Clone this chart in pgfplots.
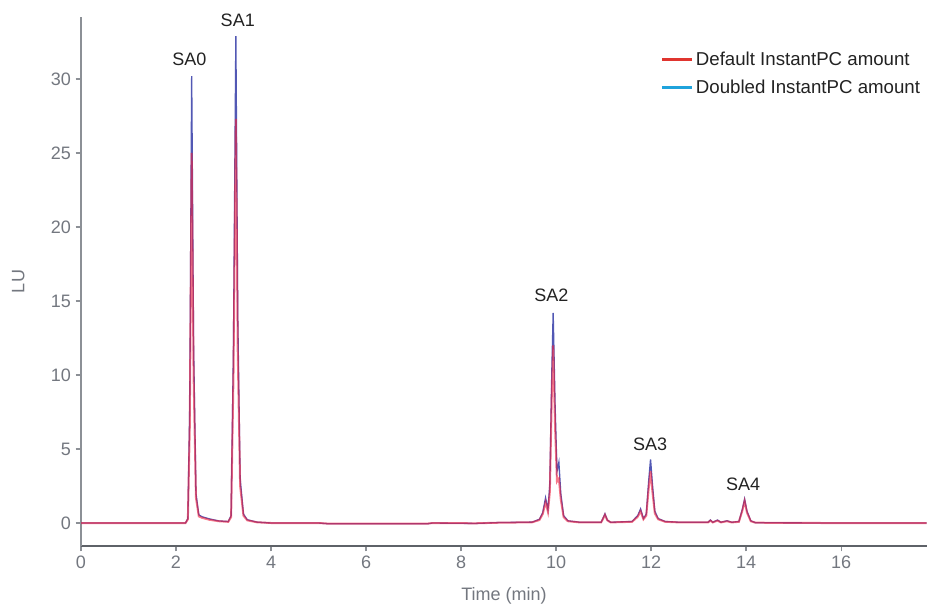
\documentclass[border=0pt]{standalone}
\usepackage{fontspec}
\setmainfont{Liberation Sans}
\usepackage{pgfplots}
\pgfplotsset{compat=1.18}
\definecolor{TickGray}{HTML}{73777F}
\definecolor{AxGray}{HTML}{8C9096}
\definecolor{BaseGray}{HTML}{5E6268}
\definecolor{Trace1}{HTML}{F0203C}
\definecolor{Trace2}{HTML}{5258B4}
\definecolor{LegRed}{HTML}{E0352F}
\definecolor{LegBlue}{HTML}{1FA3DC}
\definecolor{Ink}{HTML}{222222}

% doubled InstantPC amount
\pgfplotstableread{
t lu
0.00 0.00
2.20 0.00
2.25 0.30
2.29 8.00
2.33 30.2
2.37 12.0
2.42 2.00
2.48 0.55
2.55 0.42
2.70 0.28
2.90 0.14
3.10 0.10
3.16 0.50
3.21 12.0
3.26 32.9
3.30 14.0
3.35 3.00
3.42 0.60
3.50 0.22
3.70 0.06
4.00 0.00
5.00 0.00
5.20 -0.05
7.30 -0.05
7.40 0.00
8.30 -0.03
8.80 0.03
9.30 0.05
9.50 0.06
9.65 0.25
9.72 0.70
9.78 1.70
9.83 0.90
9.87 2.60
9.91 10.0
9.94 14.2
9.98 8.00
10.02 3.50
10.06 4.10
10.10 2.00
10.16 0.50
10.25 0.15
10.50 0.05
10.95 0.05
11.00 0.40
11.03 0.62
11.08 0.20
11.15 0.05
11.60 0.10
11.72 0.50
11.78 0.95
11.84 0.30
11.90 0.60
11.95 2.80
11.99 4.30
12.03 2.60
12.08 0.80
12.15 0.30
12.30 0.10
12.60 0.05
13.20 0.05
13.25 0.20
13.30 0.05
13.40 0.20
13.47 0.05
13.60 0.15
13.70 0.05
13.85 0.10
13.92 0.90
13.97 1.62
14.02 0.80
14.10 0.15
14.20 0.02
15.60 0.00
17.80 0.00
}\doubled

% default InstantPC amount
\pgfplotstableread{
t lu
0.00 0.00
2.20 0.00
2.25 0.25
2.29 6.50
2.33 25.0
2.37 10.0
2.42 1.70
2.48 0.45
2.55 0.35
2.70 0.22
2.90 0.12
3.10 0.08
3.16 0.40
3.21 10.0
3.26 27.3
3.30 11.5
3.35 2.50
3.42 0.50
3.50 0.18
3.70 0.05
4.00 0.00
5.00 0.00
5.20 -0.04
7.30 -0.04
7.40 0.00
8.30 -0.02
8.80 0.02
9.30 0.04
9.50 0.05
9.65 0.20
9.72 0.60
9.78 1.40
9.83 0.75
9.87 2.10
9.91 8.50
9.94 12.0
9.98 6.50
10.02 2.80
10.06 3.00
10.10 1.60
10.16 0.40
10.25 0.12
10.50 0.04
10.95 0.04
11.00 0.35
11.03 0.55
11.08 0.18
11.15 0.04
11.60 0.08
11.72 0.42
11.78 0.80
11.84 0.25
11.90 0.50
11.95 2.30
11.99 3.50
12.03 2.10
12.08 0.65
12.15 0.25
12.30 0.08
12.60 0.04
13.20 0.04
13.25 0.16
13.30 0.04
13.40 0.16
13.47 0.04
13.60 0.12
13.70 0.04
13.85 0.08
13.92 0.80
13.97 1.48
14.02 0.70
14.10 0.12
14.20 0.02
15.60 0.00
17.80 0.00
}\default

\begin{document}
\begin{tikzpicture}[font=\fontsize{13.5}{16}\selectfont]
\useasboundingbox (-60.75pt,-43.5pt) rectangle (634.5pt,409.5pt);
\begin{axis}[
  at={(0,0)},anchor=south west,
  scale only axis,width=634.5pt,height=396.75pt,
  xmin=0,xmax=17.81,ymin=-1.554,ymax=34.19,
  axis lines=left,axis line style={-},
  x axis line style={BaseGray,line width=1.6pt},
  y axis line style={AxGray,line width=0.9pt},
  xtick={0,2,...,16},ytick={0,5,...,30},
  tick align=outside,major tick length=4pt,
  tick style={AxGray,line width=0.8pt},
  tick label style={TickGray},
  /pgf/number format/assume math mode=true,
  xlabel={Time (min)},ylabel={LU},
  label style={TickGray},
  xlabel style={yshift=-7pt},
  ylabel style={yshift=13pt},
  clip=false,
  legend style={draw=none,fill=none,at={(1,0.945)},anchor=north east,
    row sep=5.5pt,font=\fontsize{14}{16}\selectfont\color{Ink}},
  legend cell align=left,
  legend image code/.code={\draw[#1] (-8pt,0pt) -- (14pt,0pt);},
]
\addplot[Trace2,line width=1.0pt,forget plot] table[x=t,y=lu] {\doubled};
\addplot[Trace1,opacity=0.6,line width=1.5pt,forget plot] table[x=t,y=lu] {\default};
\addlegendimage{LegRed,line width=2.4pt}
\addlegendentry{Default InstantPC amount}
\addlegendimage{LegBlue,line width=2.4pt}
\addlegendentry{Doubled InstantPC amount}
\node[Ink] at (axis cs:2.28,31.3) {SA0};
\node[Ink] at (axis cs:3.3,34.0) {SA1};
\node[Ink] at (axis cs:9.9,15.4) {SA2};
\node[Ink] at (axis cs:11.98,5.34) {SA3};
\node[Ink] at (axis cs:13.94,2.6) {SA4};
\end{axis}
\end{tikzpicture}
\end{document}
